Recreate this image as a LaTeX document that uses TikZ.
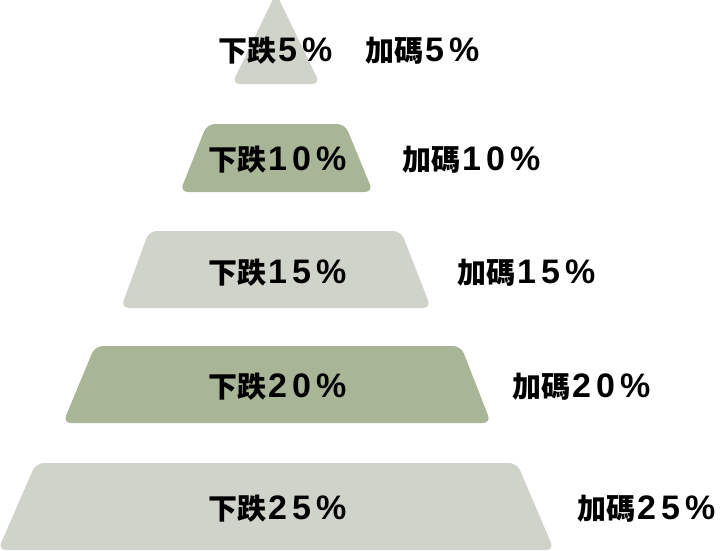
\documentclass[tikz,border=0pt]{standalone}
\usepackage{fontspec}
\newfontfamily\cjk{Noto Sans CJK TC}
\newfontfamily\numfont{Liberation Sans}
\newcommand{\dgap}{\kern5pt}
\newcommand{\pct}[1]{{\numfont\fontsize{34}{34}\selectfont\kern2pt #1}}
\definecolor{tierlight}{HTML}{D0D3CA}
\definecolor{tierdark}{HTML}{A8B597}
\begin{document}
\begin{tikzpicture}[x=1pt, y=-1pt,
    tier/.style={rounded corners=8pt},
    lbl/.style={anchor=base west, inner sep=0pt, font=\cjk\bfseries\fontsize{29}{29}\selectfont}]
        \useasboundingbox (0,0) rectangle (720,551);

        % pyramid, top to bottom
        \fill[tier, tierlight] (276,-7) -- (320,84) -- (232,84) -- cycle;
        \fill[tier, tierdark] (207,124) -- (345,124) -- (373,192) -- (180,192) -- cycle;
        \fill[tier, tierlight] (149,231) -- (401,231) -- (431,308) -- (121,308) -- cycle;
        \fill[tier, tierdark] (95,346) -- (461,346) -- (491,423) -- (63,423) -- cycle;
        \fill[tier, tierlight] (36,463) -- (517,463) -- (554,550) -- (-2,550) -- cycle;

        % labels (placed on their baselines)
        \node[lbl] (fall5) at (218,62) {下跌\pct{5\dgap\%}};
        \node[lbl] (add5) at (365,62) {加碼\pct{5\dgap\%}};
        \node[lbl] (fall10) at (208,170) {下跌\pct{1\dgap0\dgap\%}};
        \node[lbl] (add10) at (402,170) {加碼\pct{1\dgap0\dgap\%}};
        \node[lbl] (fall15) at (208,283) {下跌\pct{1\dgap5\dgap\%}};
        \node[lbl] (add15) at (457,283) {加碼\pct{1\dgap5\dgap\%}};
        \node[lbl] (fall20) at (208,397) {下跌\pct{2\dgap0\dgap\%}};
        \node[lbl] (add20) at (512,397) {加碼\pct{2\dgap0\dgap\%}};
        \node[lbl] (fall25) at (208,519) {下跌\pct{2\dgap5\dgap\%}};
        \node[lbl] (add25) at (577,519) {加碼\pct{2\dgap5\dgap\%}};
    \end{tikzpicture}
\end{document}
